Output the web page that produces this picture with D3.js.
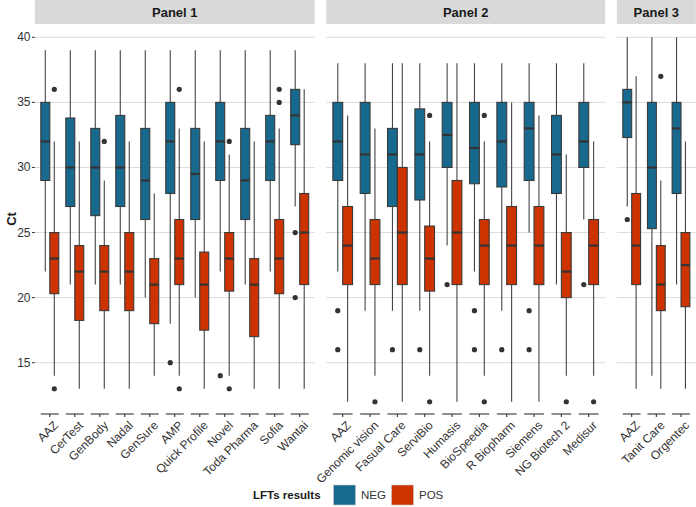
<!DOCTYPE html>
<html>
<head>
<meta charset="utf-8">
<script src="https://cdn.jsdelivr.net/npm/d3@7"></script>
<style>
  body { margin: 0; background: #fff; }
  svg text { font-family: "Liberation Sans", Arial, sans-serif; }
</style>
</head>
<body>
<svg id="chart" width="696" height="507"></svg>
<script>
// ---------- DATA ----------
const panelNames = ["Panel 1", "Panel 2", "Panel 3"];
const groups = ["NEG", "POS"];
const yTicks = [15, 20, 25, 30, 35, 40];

const cats1 = ["AAZ", "CerTest", "GenBody", "Nadal", "GenSure", "AMP", "Quick Profile", "Novel", "Toda Pharma", "Sofia", "Wantai"];
// [whisker low, q1, median, q3, whisker high]
const neg1 = [[22,29,32,35,39],[21,27,30,33.8,39],[21,26.3,30,33,39],[21,27,30,34,39],[20,26,29,33,39],[18,28,32,35,39],[20,26,29.5,33,39],[22,29,32,35,39],[21,26,29,33,39],[22,29,32,34,39],[27,31.75,34,36,39]];
const negOut1 = [[],[],[],[],[],[15],[],[14],[],[],[25,20]];
const pos1 = [[14,20.3,23,25,32],[13,18.25,22,24,32],[13,19,22,24,29],[13,19,22,25,32],[14,18,21,23,28],[14,21,23,26,33],[13,17.5,21,23.5,32],[14,20.5,23,25,31],[13,17,21,23,32],[13,20.3,23,26,33],[13,21,25,28,36]];
const posOut1 = [[36,13],[],[32],[],[],[36,13],[],[32,13],[],[36,35],[]];

const cats2 = ["AAZ", "Genomic vision", "Fasual Care", "ServiBio", "Humasis", "BioSpeedia", "R Biopharm", "Siemens", "NG Biotech 2", "Medisur"];
const neg2 = [[22,29,32,35,38],[19,28,31,35,38],[19,27,31,33,38],[19,27.5,31,34.5,38],[24,30,32.5,35,38],[22,28.75,31.5,35,38],[19,28.5,32,35,38],[25,29,33,35,38],[21,28,31,34,38],[26,30,32,35,38]];
const negOut2 = [[19,16],[],[16],[16],[21],[19,16],[16],[19,16],[],[21]];
const pos2 = [[12,21,24,27,34],[14,21,23,26,33],[12,21,25,30,38],[14,20.5,23,25.5,32],[12,21,25,29,38],[14,21,24,26,32],[12,21,24,27,35],[12,21,24,27,34],[14,20,22,25,31],[14,21,24,26,32]];
const posOut2 = [[],[12],[],[34,12],[],[34,12],[],[],[12],[12]];

const cats3 = ["AAZ", "Tanit Care", "Orgentec"];
const neg3 = [[27,32.3,35,36,40],[14,25.3,30,35,40],[21,28,33,35,40]];
const negOut3 = [[26],[],[]];
const pos3 = [[13,21,24,28,37],[13,19,21,24,29],[13,19.3,22.5,25,32]];
const posOut3 = [[],[37],[]];

// ---------- BUILD ----------
const panels = [
  { name: panelNames[0], cats: cats1, neg: neg1, negOut: negOut1, pos: pos1, posOut: posOut1, x0: 34.8, x1: 314.7 },
  { name: panelNames[1], cats: cats2, neg: neg2, negOut: negOut2, pos: pos2, posOut: posOut2, x0: 326.3, x1: 605.1 },
  { name: panelNames[2], cats: cats3, neg: neg3, negOut: negOut3, pos: pos3, posOut: posOut3, x0: 616.9, x1: 695.8 }
];

const color = d3.scaleOrdinal().domain(groups).range(["#17698E", "#CC3300"]);
const y = d3.scaleLinear().domain([15, 40]).range([362.7, 37.3]);
const panelTop = 26, panelBottom = 412, axisY = 414;

const svg = d3.select("#chart");
const textCol = "#333";

// Y axis
const yg = svg.append("g");
yTicks.forEach(t => {
  yg.append("text").attr("x", 30.5).attr("y", y(t)).attr("text-anchor", "end")
    .attr("dominant-baseline", "central").attr("font-size", 12).attr("fill", textCol).text(t);
  yg.append("line").attr("x1", 32).attr("x2", 35).attr("y1", y(t)).attr("y2", y(t))
    .attr("stroke", textCol).attr("stroke-width", 1);
});
svg.append("text").attr("transform", `translate(11,${(panelTop + panelBottom) / 2}) rotate(-90)`)
  .attr("text-anchor", "middle").attr("dominant-baseline", "central")
  .attr("font-size", 13).attr("font-weight", "bold").attr("fill", "#1a1a1a").text("Ct");

panels.forEach(p => {
  const x = d3.scalePoint().domain(p.cats).range([p.x0, p.x1]).padding(0.6);
  const step = x.step();
  const bw = 0.36 * step;
  const g = svg.append("g");

  // strip
  g.append("rect").attr("x", p.x0).attr("y", 0).attr("width", p.x1 - p.x0).attr("height", 24).attr("fill", "#D9D9D9");
  g.append("text").attr("x", (p.x0 + p.x1) / 2).attr("y", 12.5).attr("text-anchor", "middle")
    .attr("dominant-baseline", "central").attr("font-size", 13).attr("font-weight", "bold")
    .attr("fill", "#1a1a1a").text(p.name);

  // grid
  yTicks.forEach(t => {
    g.append("line").attr("x1", p.x0).attr("x2", p.x1).attr("y1", y(t)).attr("y2", y(t))
      .attr("stroke", "#DCDCDC").attr("stroke-width", 1);
  });

  // boxes
  p.cats.forEach((c, i) => {
    const cx = x(c);
    [["NEG", p.neg[i], p.negOut[i], -1], ["POS", p.pos[i], p.posOut[i], 1]].forEach(([grp, s, outs, side]) => {
      const bx = cx + side * bw / 2;
      // whisker
      g.append("line").attr("x1", bx).attr("x2", bx).attr("y1", y(s[0])).attr("y2", y(s[4]))
        .attr("stroke", "#444").attr("stroke-width", 1.1);
      // box
      g.append("rect").attr("x", bx - bw / 2).attr("y", y(s[3])).attr("width", bw)
        .attr("height", y(s[1]) - y(s[3])).attr("fill", color(grp))
        .attr("stroke", "#3a3a3a").attr("stroke-width", 1.1);
      // median
      g.append("line").attr("x1", bx - bw / 2).attr("x2", bx + bw / 2).attr("y1", y(s[2])).attr("y2", y(s[2]))
        .attr("stroke", "#333").attr("stroke-width", 2.2);
      // outliers
      outs.forEach(o => {
        g.append("circle").attr("cx", bx).attr("cy", y(o)).attr("r", 2.6).attr("fill", "#333");
      });
    });

    // axis segment + tick
    g.append("line").attr("x1", cx - bw).attr("x2", cx + bw).attr("y1", axisY).attr("y2", axisY)
      .attr("stroke", "#333").attr("stroke-width", 1.1);
    g.append("line").attr("x1", cx).attr("x2", cx).attr("y1", axisY).attr("y2", axisY + 3)
      .attr("stroke", "#333").attr("stroke-width", 1.1);
    // label
    g.append("text").attr("transform", `translate(${cx + 3},${axisY + 6}) rotate(-45)`)
      .attr("text-anchor", "end").attr("dy", "0.72em").attr("font-size", 12)
      .attr("fill", textCol).text(c);
  });
});

// Legend
const lg = svg.append("g");
lg.append("text").attr("x", 253).attr("y", 495).attr("dominant-baseline", "central")
  .attr("font-size", 11.5).attr("font-weight", "bold").attr("fill", "#1a1a1a").text("LFTs results");
const keyX = [333.5, 391.5];
groups.forEach((gname, i) => {
  lg.append("rect").attr("x", keyX[i]).attr("y", 485).attr("width", 22).attr("height", 20)
    .attr("fill", color(gname)).attr("stroke", "#ccc").attr("stroke-width", 0.6);
  lg.append("text").attr("x", keyX[i] + 27.5).attr("y", 495).attr("dominant-baseline", "central")
    .attr("font-size", 11.5).attr("fill", textCol).text(gname);
});
</script>
</body>
</html>
